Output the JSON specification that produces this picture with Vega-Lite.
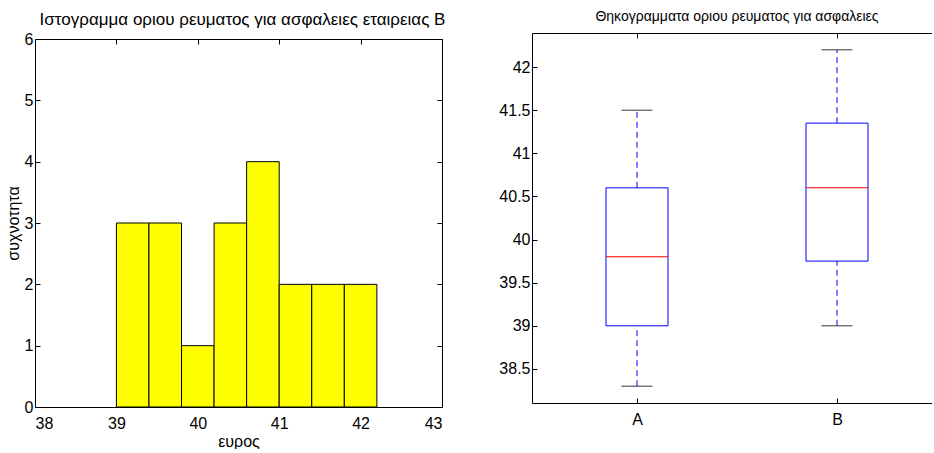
{
  "$schema": "https://vega.github.io/schema/vega-lite/v6.json",
  "padding": {"left": 5, "top": 9, "right": 0, "bottom": 0},
  "spacing": 52,
  "background": "white",
  "config": {
    "font": "Liberation Sans",
    "view": {"stroke": null},
    "axis": {
      "grid": false,
      "domainColor": "black",
      "tickColor": "black",
      "tickSize": -5,
      "labelPadding": 8,
      "labelFontSize": 16,
      "labelColor": "black",
      "titleFontSize": 16,
      "titleFontWeight": "normal",
      "titleColor": "black",
      "labelFont": "Liberation Sans",
      "titleFont": "Liberation Sans"
    },
    "title": {"fontSize": 14, "fontWeight": "normal", "font": "Liberation Sans", "color": "black"}
  },
  "datasets": {
    "hist": [
      {"bin_start": 39.0, "bin_end": 39.4, "count": 3},
      {"bin_start": 39.4, "bin_end": 39.8, "count": 3},
      {"bin_start": 39.8, "bin_end": 40.2, "count": 1},
      {"bin_start": 40.2, "bin_end": 40.6, "count": 3},
      {"bin_start": 40.6, "bin_end": 41.0, "count": 4},
      {"bin_start": 41.0, "bin_end": 41.4, "count": 2},
      {"bin_start": 41.4, "bin_end": 41.8, "count": 2},
      {"bin_start": 41.8, "bin_end": 42.2, "count": 2}
    ],
    "box": [
      {"group": "A", "pos": 1, "min": 38.3, "q1": 39.0, "median": 39.8, "q3": 40.6, "max": 41.5},
      {"group": "B", "pos": 2, "min": 39.0, "q1": 39.75, "median": 40.6, "q3": 41.35, "max": 42.2}
    ]
  },
  "hconcat": [
    {
      "width": 407,
      "height": 374,
      "title": {"text": "Ιστογραμμα οριου ρευματος για ασφαλειες εταιρειας Β", "offset": 2, "fontSize": 17, "dx": 4},
      "data": {"name": "hist"},
      "layer": [
        {
          "mark": {"type": "bar", "fill": "#ffff00", "stroke": "black", "strokeWidth": 1},
          "encoding": {
            "x": {"field": "bin_start", "type": "quantitative", "scale": {"domain": [38, 43], "nice": false, "zero": false},
                  "axis": {"values": [38, 39, 40, 41, 42, 43], "title": "ευρος", "titlePadding": 2, "labelPadding": 13}},
            "x2": {"field": "bin_end"},
            "y": {"field": "count", "type": "quantitative", "scale": {"domain": [0, 6], "nice": false, "range": [374, 6]},
                  "axis": {"values": [0, 1, 2, 3, 4, 5, 6], "title": "συχνοτητα", "titlePadding": 3, "labelPadding": 7}},
            "y2": {"datum": 0}
          }
        },
        {
          "mark": {"type": "rule", "opacity": 0},
          "encoding": {
            "x": {"field": "bin_start", "type": "quantitative", "scale": {"domain": [38, 43], "nice": false, "zero": false},
                  "axis": {"orient": "top", "offset": -6, "values": [38, 39, 40, 41, 42, 43], "labels": false, "title": null}},
            "y": {"field": "count", "type": "quantitative",
                  "axis": {"orient": "right", "values": [0, 1, 2, 3, 4, 5, 6], "labels": false, "title": null}}
          }
        }
      ],
      "resolve": {"axis": {"x": "independent", "y": "independent"}}
    },
    {
      "width": 400,
      "height": 370,
      "title": {"text": "Θηκογραμματα οριου ρευματος για ασφαλειες", "offset": 9, "dx": 5},
      "data": {"name": "box"},
      "layer": [
        {
          "mark": {"type": "rule", "color": "#0000ff", "strokeDash": [6, 4], "strokeWidth": 1},
          "encoding": {
            "x": {"field": "pos", "type": "quantitative", "scale": {"domain": [0.5, 2.45], "nice": false, "zero": false},
                  "axis": {"values": [1, 2], "labelExpr": "datum.value == 1 ? 'A' : 'B'", "title": null, "labelPadding": 13}},
            "y": {"field": "q3", "type": "quantitative", "scale": {"domain": [38.105, 42.395], "nice": false, "zero": false},
                  "axis": {"values": [38.5, 39, 39.5, 40, 40.5, 41, 41.5, 42], "format": ".1~f", "title": null, "labelPadding": 7}},
            "y2": {"field": "max"}
          }
        },
        {
          "mark": {"type": "rule", "color": "#0000ff", "strokeDash": [6, 4], "strokeWidth": 1},
          "encoding": {"x": {"field": "pos", "type": "quantitative", "axis": null}, "y": {"field": "min", "type": "quantitative"}, "y2": {"field": "q1"}}
        },
        {
          "mark": {"type": "bar", "size": 62, "fill": "white", "stroke": "#0000ff", "strokeWidth": 1},
          "encoding": {"x": {"field": "pos", "type": "quantitative", "axis": null}, "y": {"field": "q1", "type": "quantitative"}, "y2": {"field": "q3"}}
        },
        {
          "mark": {"type": "tick", "orient": "horizontal", "size": 31, "thickness": 1, "color": "#333333", "opacity": 1},
          "encoding": {"x": {"field": "pos", "type": "quantitative", "axis": null}, "y": {"field": "max", "type": "quantitative"}}
        },
        {
          "mark": {"type": "tick", "orient": "horizontal", "size": 31, "thickness": 1, "color": "#333333", "opacity": 1},
          "encoding": {"x": {"field": "pos", "type": "quantitative", "axis": null}, "y": {"field": "min", "type": "quantitative"}}
        },
        {
          "mark": {"type": "tick", "orient": "horizontal", "size": 62, "thickness": 1, "color": "#ff0000", "opacity": 1},
          "encoding": {"x": {"field": "pos", "type": "quantitative", "axis": null}, "y": {"field": "median", "type": "quantitative"}}
        },
        {
          "mark": {"type": "rule", "opacity": 0},
          "encoding": {
            "x": {"field": "pos", "type": "quantitative", "scale": {"domain": [0.5, 2.45], "nice": false, "zero": false},
                  "axis": {"orient": "top", "values": [1, 2], "labels": false, "title": null}}
          }
        }
      ],
      "resolve": {"axis": {"x": "independent"}}
    }
  ]
}
